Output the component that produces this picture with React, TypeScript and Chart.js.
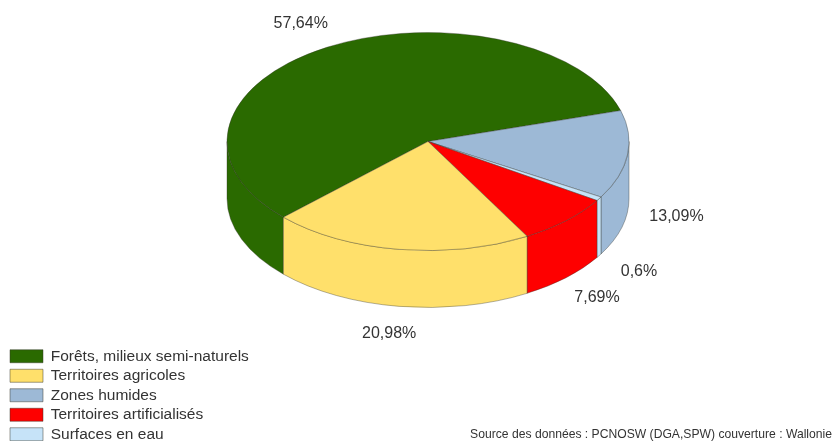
import React, { useEffect, useRef } from "react";
import { Chart, registerables } from "chart.js";

Chart.register(...registerables);

// Land cover shares, listed clockwise around the disc.
const categories = [
  "Forêts, milieux semi-naturels",
  "Zones humides",
  "Surfaces en eau",
  "Territoires artificialisés",
  "Territoires agricoles",
];
const shares = [57.64, 13.09, 0.6, 7.69, 20.98];
const colors = ["#2a6a00", "#9db9d6", "#c6e3f8", "#fe0000", "#ffe06b"];
const legendOrder = [
  "Forêts, milieux semi-naturels",
  "Territoires agricoles",
  "Zones humides",
  "Territoires artificialisés",
  "Surfaces en eau",
];
const sourceNote = "Source des données : PCNOSW (DGA,SPW) couverture : Wallonie";

// Disc projection on the canvas.
const CENTER_X = 428;
const CENTER_Y = 141.5;
const RADIUS = 201;
const SQUASH = 109 / 201;
const DEPTH = 57;
const FONT = '"Liberation Sans", Arial, sans-serif';
const TEXT_COLOR = "#333333";
const EDGE = "rgba(50,50,40,0.6)";

// Distance of each percentage from the rim point at its slice's mid angle.
const labelShift = [
  [-26, -24],
  [49, 62],
  [40, 73],
  [31, 77],
  [-10, 84],
];

const disc3d = {
  id: "disc3d",
  beforeDatasetsDraw(chart: any) {
    const { ctx } = chart;
    const arcs = chart.getDatasetMeta(0).data;
    const { x, y } = arcs[0];
    ctx.save();
    ctx.translate(CENTER_X, CENTER_Y);
    ctx.scale(1, SQUASH);
    ctx.translate(-x, -y);
    const drop = DEPTH / SQUASH;
    // Rim wall of every slice, limited to the front half of the disc.
    arcs.forEach((arc: any) => {
      for (let k = -1; k <= 1; k++) {
        const from = Math.max(arc.startAngle, 2 * Math.PI * k);
        const to = Math.min(arc.endAngle, 2 * Math.PI * k + Math.PI);
        if (to <= from) continue;
        ctx.beginPath();
        ctx.arc(x, y, arc.outerRadius, from, to);
        ctx.arc(x, y + drop, arc.outerRadius, to, from, true);
        ctx.closePath();
        ctx.fillStyle = arc.options.backgroundColor;
        ctx.fill();
        ctx.strokeStyle = EDGE;
        ctx.lineWidth = 0.8;
        ctx.stroke();
      }
    });
  },
  afterDatasetsDraw(chart: any) {
    const { ctx } = chart;
    ctx.restore();
    const arcs = chart.getDatasetMeta(0).data;
    ctx.save();
    ctx.fillStyle = TEXT_COLOR;
    ctx.font = `16px ${FONT}`;
    ctx.textAlign = "center";
    ctx.textBaseline = "middle";
    arcs.forEach((arc: any, i: number) => {
      const mid = (arc.startAngle + arc.endAngle) / 2;
      const px = CENTER_X + RADIUS * Math.cos(mid) + labelShift[i][0];
      const py = CENTER_Y + RADIUS * SQUASH * Math.sin(mid) + labelShift[i][1];
      ctx.fillText(`${String(shares[i]).replace(".", ",")}%`, px, py);
    });
    ctx.font = `12.15px ${FONT}`;
    ctx.textAlign = "right";
    ctx.fillText(sourceNote, 832, 435);
    ctx.restore();
  },
};

// Pushes the legend column down into the bottom-left corner of the canvas.
const legendCorner = {
  id: "legendCorner",
  afterLayout(chart: any) {
    chart.legend.top += 5;
    chart.legend.bottom += 5;
  },
};

export default function App() {
  const ref = useRef<HTMLCanvasElement>(null);
  useEffect(() => {
    document.body.style.margin = "0";
    document.body.style.background = "#ffffff";
    const chart = new Chart(ref.current!, {
      type: "pie",
      data: {
        labels: categories,
        datasets: [
          {
            data: shares,
            backgroundColor: colors,
            borderColor: EDGE,
            borderWidth: 0.8,
            radius: RADIUS,
            clip: false,
          } as any,
        ],
      },
      options: {
        responsive: false,
        animation: false,
        rotation: 226,
        layout: { padding: { left: 6 } },
        plugins: {
          tooltip: { enabled: false },
          legend: {
            position: "left",
            align: "end",
            labels: {
              boxWidth: 33,
              boxHeight: 13,
              padding: 4,
              color: TEXT_COLOR,
              font: { family: FONT, size: 15.5 },
              sort: (a: any, b: any) =>
                legendOrder.indexOf(a.text) - legendOrder.indexOf(b.text),
            },
          },
        },
      },
      plugins: [disc3d, legendCorner],
    });
    return () => chart.destroy();
  }, []);
  return (
    <div style={{ position: "absolute", left: 0, top: 0, width: 834, height: 441 }}>
      <canvas ref={ref} width={834} height={441} style={{ display: "block" }} />
    </div>
  );
}
